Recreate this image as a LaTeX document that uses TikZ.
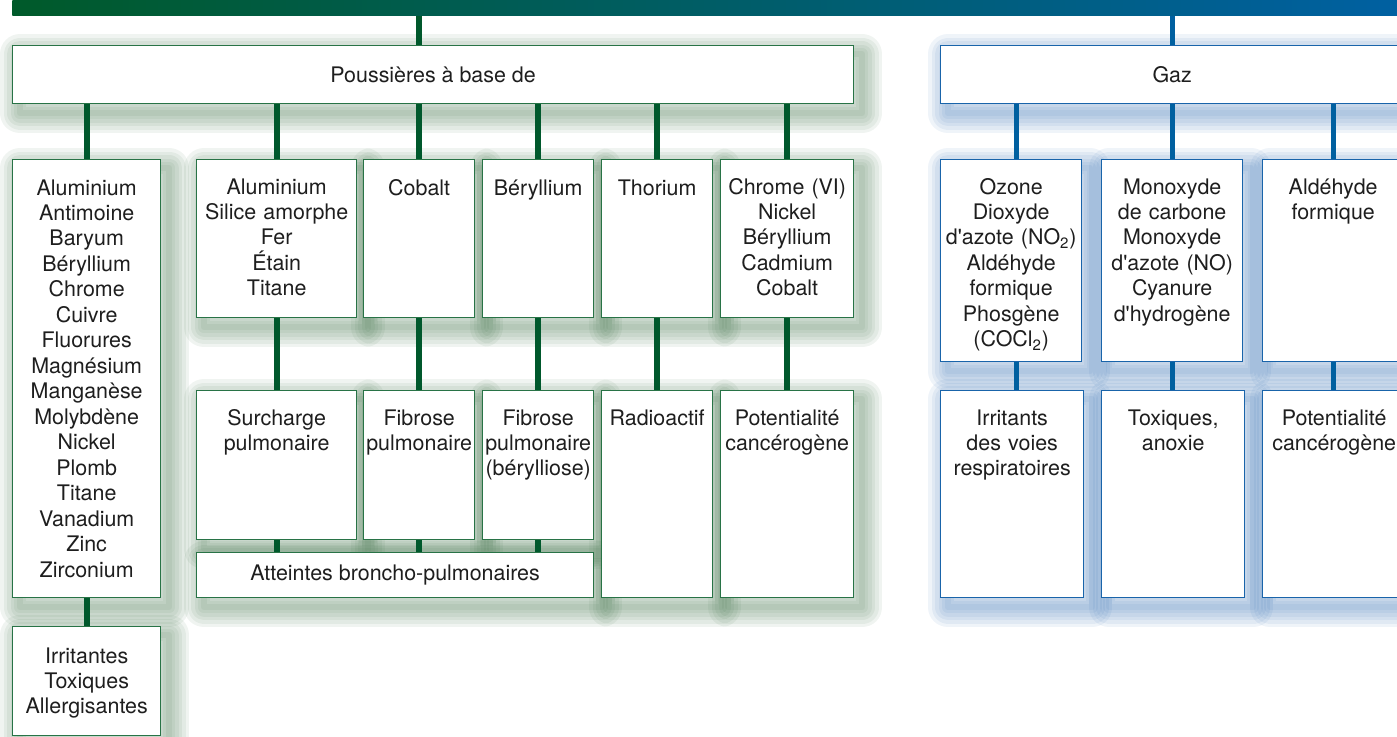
\documentclass[tikz,border=0pt]{standalone}
\usepackage{fontspec}
\newfontfamily\helv{TeX Gyre Heros}
\usetikzlibrary{calc,backgrounds}
\definecolor{bargreen}{RGB}{0,90,42}
\definecolor{barblue}{RGB}{0,96,162}
\definecolor{linegreen}{RGB}{0,88,44}
\definecolor{lineblue}{RGB}{0,96,160}
\definecolor{boxgreen}{RGB}{40,115,70}
\definecolor{boxblue}{RGB}{25,100,170}
\definecolor{shadegreen}{RGB}{45,100,55}
\definecolor{shadeblue}{RGB}{30,95,170}
\definecolor{ink}{RGB}{30,30,30}

\begin{document}
\begin{tikzpicture}[
  x=0.02cm, y=-0.02cm,
  gbox/.style={draw=boxgreen, fill=white, line width=0.8pt, anchor=north west, inner sep=0pt},
  bbox/.style={draw=boxblue, fill=white, line width=0.8pt, anchor=north west, inner sep=0pt},
  hdr/.style={text=ink, font=\helv\fontsize{12.2pt}{14.5pt}\selectfont},
  txt/.style={anchor=base, align=center, text width=3.2cm, inner sep=0pt, text=ink,
    font=\helv\fontsize{12.2pt}{14.5pt}\selectfont},
  gline/.style={draw=linegreen, line width=0.12cm},
  bline/.style={draw=lineblue, line width=0.1cm},
  halo/.style={draw=#1, line join=round}
]
  \useasboundingbox (0,0) rectangle (1397,737);
  \clip (0,0) rectangle (1397,737);

  % top bar
  \node[anchor=north west, inner sep=0pt, minimum width=27.9cm, minimum height=0.3cm,
    left color=bargreen, right color=barblue] (bar) at (12,0) {};

  % headers
  \node[gbox, hdr, minimum width=16.82cm, minimum height=1.16cm] (pous) at (12,45) {Poussières à base de};
  \node[bbox, hdr, minimum width=9.26cm, minimum height=1.16cm] (gaz) at (940,45) {Gaz};

  % dust: substances
  \node[gbox, minimum width=2.96cm, minimum height=8.76cm] (alu) at (12,159) {};
  \node[gbox, minimum width=3.2cm, minimum height=3.16cm] (mix) at (196,159) {};
  \node[gbox, minimum width=2.22cm, minimum height=3.16cm] (cob) at (363,159) {};
  \node[gbox, minimum width=2.22cm, minimum height=3.16cm] (ber) at (482,159) {};
  \node[gbox, minimum width=2.22cm, minimum height=3.16cm] (tho) at (601,159) {};
  \node[gbox, minimum width=2.66cm, minimum height=3.16cm] (chr) at (720,159) {};

  % dust: effects
  \node[gbox, minimum width=2.96cm, minimum height=2.18cm] (irr) at (12,626) {};
  \node[gbox, minimum width=3.2cm, minimum height=2.98cm] (sur) at (196,390) {};
  \node[gbox, minimum width=2.22cm, minimum height=2.98cm] (fib) at (363,390) {};
  \node[gbox, minimum width=2.22cm, minimum height=2.98cm] (fibb) at (482,390) {};
  \node[gbox, minimum width=2.22cm, minimum height=4.14cm] (rad) at (601,390) {};
  \node[gbox, minimum width=2.66cm, minimum height=4.14cm] (canc) at (720,390) {};
  \node[gbox, hdr, minimum width=7.94cm, minimum height=0.9cm] (att) at (196,552) {Atteintes broncho-pulmonaires};

  % gas: substances
  \node[bbox, minimum width=2.82cm, minimum height=4.04cm] (ozo) at (940,159) {};
  \node[bbox, minimum width=2.82cm, minimum height=4.04cm] (mon) at (1101,159) {};
  \node[bbox, minimum width=2.82cm, minimum height=4.04cm] (ald) at (1262,159) {};

  % gas: effects
  \node[bbox, minimum width=2.86cm, minimum height=4.14cm] (irv) at (940,390) {};
  \node[bbox, minimum width=2.86cm, minimum height=4.14cm] (tox) at (1101,390) {};
  \node[bbox, minimum width=2.86cm, minimum height=4.14cm] (cang) at (1262,390) {};

  % texts
  \node[txt] (alu-t) at ($(alu.north)+(0,36)$) {Aluminium\\Antimoine\\Baryum\\Béryllium\\Chrome\\Cuivre\\Fluorures\\Magnésium\\Manganèse\\Molybdène\\Nickel\\Plomb\\Titane\\Vanadium\\Zinc\\Zirconium};
  \node[txt] (mix-t) at ($(mix.north)+(0,35)$) {Aluminium\\Silice amorphe\\Fer\\Étain\\Titane};
  \node[txt] (cob-t) at ($(cob.north)+(0,36)$) {Cobalt};
  \node[txt] (ber-t) at ($(ber.north)+(0,36)$) {Béryllium};
  \node[txt] (tho-t) at ($(tho.north)+(0,36)$) {Thorium};
  \node[txt] (chr-t) at ($(chr.north)+(0,35)$) {Chrome (VI)\\Nickel\\Béryllium\\Cadmium\\Cobalt};
  \node[txt] (irr-t) at ($(irr.north)+(0,37)$) {Irritantes\\Toxiques\\Allergisantes};
  \node[txt] (sur-t) at ($(sur.north)+(0,35)$) {Surcharge\\pulmonaire};
  \node[txt] (fib-t) at ($(fib.north)+(0,35)$) {Fibrose\\pulmonaire};
  \node[txt] (fibb-t) at ($(fibb.north)+(0,35)$) {Fibrose\\pulmonaire\\(bérylliose)};
  \node[txt] (rad-t) at ($(rad.north)+(0,35)$) {Radioactif};
  \node[txt] (canc-t) at ($(canc.north)+(0,35)$) {Potentialité\\cancérogène};
  \node[txt] (ozo-t) at ($(ozo.north)+(0,35)$) {Ozone\\Dioxyde\\d'azote (NO\textsubscript{2})\\Aldéhyde\\formique\\Phosgène\\(COCl\textsubscript{2})};
  \node[txt] (mon-t) at ($(mon.north)+(0,35)$) {Monoxyde\\de carbone\\Monoxyde\\d'azote (NO)\\Cyanure\\d'hydrogène};
  \node[txt] (ald-t) at ($(ald.north)+(0,35)$) {Aldéhyde\\formique};
  \node[txt] (irv-t) at ($(irv.north)+(0,35)$) {Irritants\\des voies\\respiratoires};
  \node[txt] (tox-t) at ($(tox.north)+(0,35)$) {Toxiques,\\anoxie};
  \node[txt] (cang-t) at ($(cang.north)+(0,35)$) {Potentialité\\cancérogène};

  % soft shadows
  \begin{scope}[on background layer]
    \foreach \n in {pous,alu,mix,cob,ber,tho,chr,irr,sur,fib,fibb,rad,canc,att}
      \foreach \w in {40,33,26,19,12,6}
        \draw[halo=shadegreen, line width=\w*0.02cm, opacity=0.07]
          ([shift={(8,9)}]\n.north west) rectangle ([shift={(8,9)}]\n.south east);
    \foreach \n in {gaz,ozo,mon,ald,irv,tox,cang}
      \foreach \w in {40,33,26,19,12,6}
        \draw[halo=shadeblue, line width=\w*0.02cm, opacity=0.07]
          ([shift={(8,9)}]\n.north west) rectangle ([shift={(8,9)}]\n.south east);
  \end{scope}

  % dust connectors
  \draw[gline] (bar.south -| cob.north) -- (pous.north -| cob.north);
  \draw[gline] (pous.south -| alu.north) -- (alu.north);
  \draw[gline] (pous.south -| mix.north) -- (mix.north);
  \draw[gline] (pous.south -| cob.north) -- (cob.north);
  \draw[gline] (pous.south -| ber.north) -- (ber.north);
  \draw[gline] (pous.south -| tho.north) -- (tho.north);
  \draw[gline] (pous.south -| chr.north) -- (chr.north);
  \draw[gline] (alu.south) -- (alu.south |- irr.north);
  \draw[gline] (mix.south) -- (mix.south |- sur.north);
  \draw[gline] (cob.south) -- (cob.south |- fib.north);
  \draw[gline] (ber.south) -- (ber.south |- fibb.north);
  \draw[gline] (tho.south) -- (tho.south |- rad.north);
  \draw[gline] (chr.south) -- (chr.south |- canc.north);
  \draw[gline] (sur.south) -- (sur.south |- att.north);
  \draw[gline] (fib.south) -- (fib.south |- att.north);
  \draw[gline] (fibb.south) -- (fibb.south |- att.north);

  % gas connectors
  \draw[bline] (bar.south -| mon.north) -- (gaz.north -| mon.north);
  \draw[bline] ([xshift=0.1cm]gaz.south -| ozo.north) -- ([xshift=0.1cm]ozo.north);
  \draw[bline] (gaz.south -| mon.north) -- (mon.north);
  \draw[bline] (gaz.south -| ald.north) -- (ald.north);
  \draw[bline] ([xshift=0.1cm]ozo.south) -- ([xshift=0.1cm]ozo.south |- irv.north);
  \draw[bline] (mon.south) -- (mon.south |- tox.north);
  \draw[bline] (ald.south) -- (ald.south |- cang.north);

\end{tikzpicture}
\end{document}
